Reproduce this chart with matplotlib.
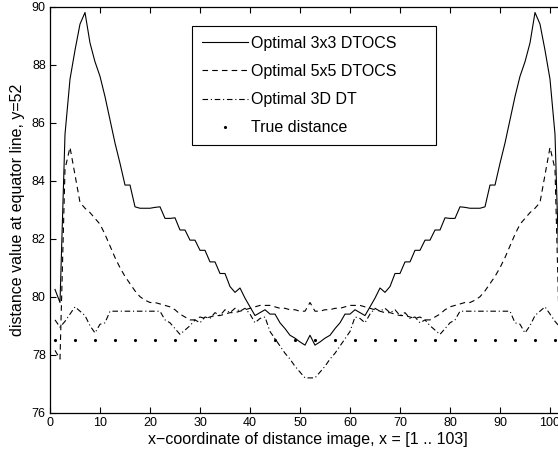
import matplotlib
matplotlib.use("Agg")
import matplotlib.pyplot as plt

plt.rcParams["font.family"] = ["Liberation Sans", "DejaVu Sans"]
plt.rcParams["lines.scale_dashes"] = False

# x positions on the equator line
x_pos = list(range(1, 104))

# Optimal 3x3 DTOCS
dtocs3 = [80.25, 79.8, 85.6, 87.5, 88.5, 89.4, 89.8, 88.75, 88.1, 87.6,
          86.9, 86.1, 85.3, 84.6, 83.85, 83.85, 83.1, 83.05, 83.05, 83.05,
          83.08, 83.1, 82.7, 82.7, 82.72, 82.3, 82.3, 81.95, 81.95, 81.6,
          81.6, 81.2, 81.2, 80.8, 80.8, 80.35, 80.15, 80.3, 79.95, 79.65,
          79.35, 79.45, 79.55, 79.4, 79.4, 79.1, 78.9, 78.67, 78.57, 78.44,
          78.33, 78.67,
          78.33, 78.44, 78.57, 78.67, 78.9, 79.1, 79.4, 79.4, 79.55, 79.45,
          79.35, 79.65, 79.95, 80.3, 80.15, 80.35, 80.8, 80.8, 81.2, 81.2,
          81.6, 81.6, 81.95, 81.95, 82.3, 82.3, 82.72, 82.7, 82.7, 83.1,
          83.08, 83.05, 83.05, 83.05, 83.1, 83.85, 83.85, 84.6, 85.3, 86.1,
          86.9, 87.6, 88.1, 88.75, 89.8, 89.4, 88.5, 87.5, 85.6, 79.8, 80.25]

# Optimal 5x5 DTOCS
dtocs5 = [78.15, 77.85, 84.4, 85.15, 84.2, 83.25, 83.05, 82.9, 82.7, 82.5,
          82.15, 81.75, 81.35, 81.0, 80.7, 80.45, 80.2, 80.0, 79.88, 79.8,
          79.8, 79.75, 79.7, 79.65, 79.55, 79.4, 79.3, 79.2, 79.2, 79.3,
          79.25, 79.3, 79.35, 79.35, 79.4, 79.45, 79.45, 79.5, 79.55, 79.6,
          79.65, 79.7, 79.7, 79.7, 79.65, 79.6, 79.6, 79.55, 79.55, 79.5,
          79.5, 79.8,
          79.5, 79.5, 79.55, 79.55, 79.6, 79.6, 79.65, 79.7, 79.7, 79.7,
          79.65, 79.6, 79.55, 79.5, 79.45, 79.45, 79.4, 79.35, 79.35, 79.3,
          79.25, 79.3, 79.2, 79.2, 79.3, 79.4, 79.55, 79.65, 79.7, 79.75,
          79.8, 79.8, 79.88, 80.0, 80.2, 80.45, 80.7, 81.0, 81.35, 81.75,
          82.15, 82.5, 82.7, 82.9, 83.05, 83.25, 84.2, 85.15, 84.4, 77.85, 78.15]

# Optimal 3D DT
dt3d = [79.2, 78.95, 79.15, 79.4, 79.65, 79.5, 79.35, 79.0, 78.75, 79.05,
        79.1, 79.5, 79.5, 79.5, 79.5, 79.5, 79.5, 79.5, 79.5, 79.5,
        79.5, 79.5, 79.2, 79.1, 78.9, 78.7, 78.85, 79.0, 79.2, 79.1,
        79.3, 79.25, 79.45, 79.35, 79.55, 79.45, 79.6, 79.5, 79.6, 79.4,
        79.1, 79.25, 79.3, 78.8, 78.55, 78.3, 78.05, 77.85, 77.6, 77.4,
        77.2, 77.2,
        77.2, 77.4, 77.6, 77.85, 78.05, 78.3, 78.55, 78.8, 79.3, 79.25,
        79.1, 79.4, 79.6, 79.5, 79.6, 79.45, 79.55, 79.35, 79.45, 79.25,
        79.3, 79.1, 79.2, 79.0, 78.85, 78.7, 78.9, 79.1, 79.2, 79.5,
        79.5, 79.5, 79.5, 79.5, 79.5, 79.5, 79.5, 79.5, 79.5, 79.5,
        79.1, 79.05, 78.75, 79.0, 79.35, 79.5, 79.65, 79.4, 79.15, 78.95, 79.2]

# True distance (sampled every 4th pixel)
true_x = [1, 5, 9, 13, 17, 21, 25, 29, 33, 37, 41, 45, 49, 53, 57, 61, 65,
          69, 73, 77, 81, 85, 89, 93, 97, 101]
true_d = [78.5, 78.5, 78.5, 78.5, 78.5, 78.5, 78.5, 78.5, 78.5, 78.5, 78.5,
          78.5, 78.5, 78.5, 78.5, 78.5, 78.5, 78.5, 78.5, 78.5, 78.5, 78.5,
          78.5, 78.5, 78.5, 78.5]

fig = plt.figure(figsize=(5.58, 4.51), dpi=100)
# axes runs past the right edge of the figure (cropped original)
ax = fig.add_axes([50 / 558, 38.3 / 451, 515 / 558, 406 / 451])

lw = 0.8
ax.plot(x_pos, dtocs3, color="black", linewidth=lw, label="Optimal 3x3 DTOCS")
ax.plot(x_pos, dtocs5, color="black", linewidth=lw, dashes=(4, 3),
        label="Optimal 5x5 DTOCS")
ax.plot(x_pos, dt3d, color="black", linewidth=lw, dashes=(4, 2, 0.8, 2),
        label="Optimal 3D DT")
ax.plot(true_x, true_d, linestyle="none", marker=".", markersize=2.5,
        color="black", label="True distance")

ax.set_xlim(0, 103)
ax.set_ylim(76, 90)
ax.set_xticks(range(0, 101, 10))
ax.set_yticks(range(76, 91, 2))
ax.tick_params(direction="in", length=4, width=0.8, labelsize=9, pad=3,
               top=True, right=True)
for sp in ax.spines.values():
    sp.set_linewidth(0.9)

ax.set_xlabel("x\u2212coordinate of distance image, x = [1 .. 103]",
              fontsize=11.5, labelpad=2)
ax.set_ylabel("distance value at equator line, y=52", fontsize=11.5,
              labelpad=5)

leg_top = 1 - 26 / 451
leg = ax.legend(loc="upper left",
                bbox_to_anchor=(192 / 558, leg_top - 0.4, 244 / 558, 0.4),
                bbox_transform=fig.transFigure, mode="expand", borderaxespad=0,
                fontsize=11.5, frameon=True, fancybox=False, framealpha=1,
                edgecolor="black", handlelength=2.9, handletextpad=0.2,
                labelspacing=0.82, borderpad=0.62, markerscale=1.0)
leg.get_frame().set_linewidth(0.8)

fig.savefig("out.png", dpi=100)
